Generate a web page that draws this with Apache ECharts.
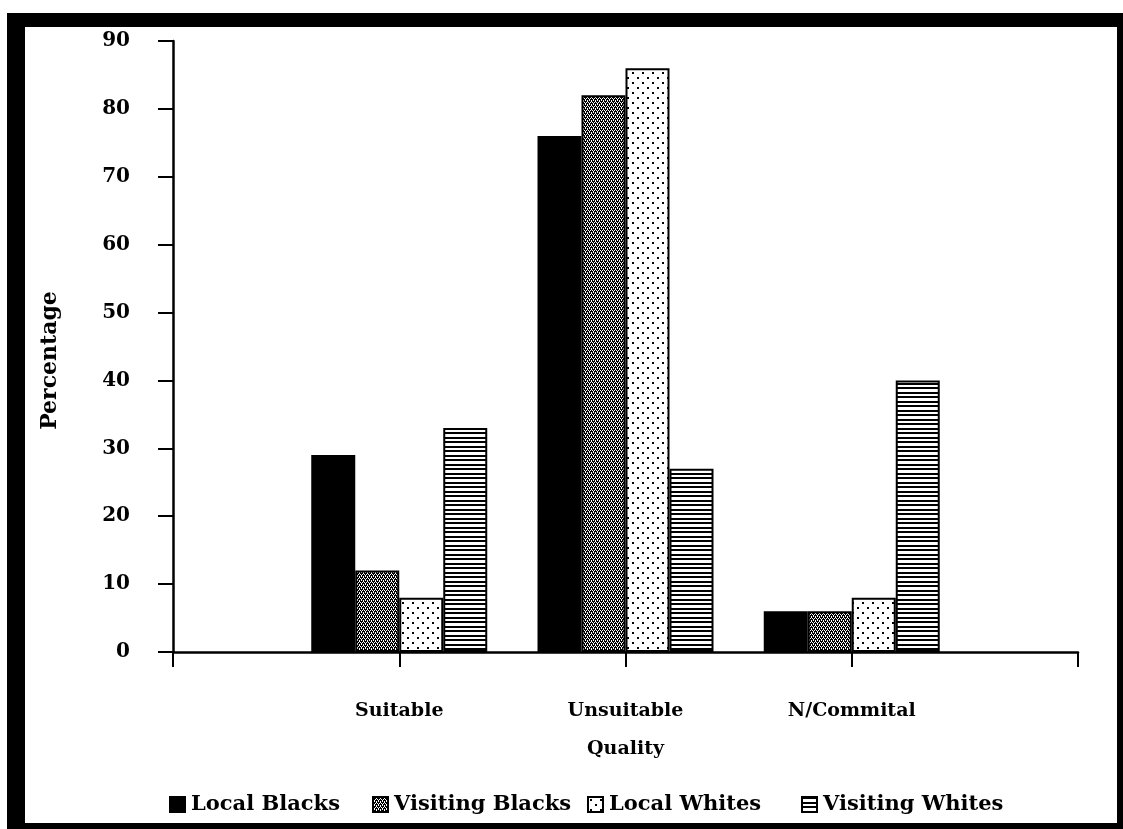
<!DOCTYPE html>
<html>
<head>
<meta charset="utf-8">
<script src="https://cdn.jsdelivr.net/npm/echarts@6/dist/echarts.min.js"></script>
<style>
  html, body { margin: 0; padding: 0; background: #fff; }
  #chart { width: 1123px; height: 829px; }
</style>
</head>
<body>
<div id="chart"></div>
<script>
const chart = echarts.init(document.getElementById("chart"));

// ==========================
// DATA
// ==========================

const categories = ["", "Suitable", "Unsuitable", "N/Commital", ""];
const seriesNames = ["Local Blacks", "Visiting Blacks", "Local Whites", "Visiting Whites"];

const localBlacks    = [null, 29, 76, 6, null];
const visitingBlacks = [null, 12, 82, 6, null];
const localWhites    = [null, 8, 86, 8, null];
const visitingWhites = [null, 33, 27, 40, null];

const yTicks = [0, 10, 20, 30, 40, 50, 60, 70, 80, 90];

// ==========================
// PATTERNS
// ==========================

function makePattern(w, h, draw) {
  const c = document.createElement("canvas");
  c.width = w;
  c.height = h;
  const ctx = c.getContext("2d");
  ctx.fillStyle = "#fff";
  ctx.fillRect(0, 0, w, h);
  ctx.fillStyle = "#000";
  draw(ctx);
  return { image: c, repeat: "repeat" };
}

const solid = "#000";

// dark halftone
const halftone = makePattern(4, 4, ctx => {
  const rows = ["X.X.", "XXX.", ".X.X", "X.XX"];
  rows.forEach((r, y) => {
    for (let x = 0; x < 4; x++) if (r[x] === "X") ctx.fillRect(x, y, 1, 1);
  });
});

// sparse dots
const dots = makePattern(10, 10, ctx => {
  ctx.fillRect(2, 2, 2, 2);
  ctx.fillRect(7, 7, 2, 2);
});

// horizontal stripes
const stripes = makePattern(4, 9, ctx => {
  ctx.fillRect(0, 0, 4, 2);
  ctx.fillRect(0, 5, 4, 2);
});

const fills = [solid, halftone, dots, stripes];
const values = [localBlacks, visitingBlacks, localWhites, visitingWhites];

const FONT = "DejaVu Serif";

// ==========================
// OPTION
// ==========================

const legendLefts = [164, 367, 582, 796];

chart.setOption({
  animation: false,
  backgroundColor: "#fff",
  textStyle: { fontFamily: FONT, color: "#000" },

  graphic: [
    { type: "rect", shape: { x: 7, y: 13, width: 18, height: 816 }, style: { fill: "#000" } },
    { type: "rect", shape: { x: 7, y: 13, width: 1116, height: 14 }, style: { fill: "#000" } },
    { type: "rect", shape: { x: 1117, y: 13, width: 6, height: 816 }, style: { fill: "#000" } },
    { type: "rect", shape: { x: 7, y: 823, width: 1116, height: 6 }, style: { fill: "#000" } }
  ],

  grid: {
    left: 173,
    right: 45,
    top: 41,
    bottom: 177
  },

  legend: seriesNames.map((name, i) => ({
    data: [name],
    left: legendLefts[i],
    top: 789,
    itemWidth: 15,
    itemHeight: 15,
    itemGap: 0,
    icon: "rect",
    selectedMode: false,
    textStyle: { fontFamily: FONT, fontWeight: "bold", fontSize: 21, color: "#000", padding: [0, 0, 0, 1] }
  })),

  xAxis: {
    type: "category",
    data: categories,
    boundaryGap: false,
    name: "Quality",
    nameLocation: "middle",
    nameGap: 88,
    nameTextStyle: { fontFamily: FONT, fontWeight: "bold", fontSize: 19, color: "#000" },
    axisLine: { lineStyle: { color: "#000", width: 2.5 } },
    axisTick: { show: true, length: 15, alignWithLabel: true, lineStyle: { color: "#000", width: 2 } },
    axisLabel: {
      margin: 50,
      interval: 0,
      fontFamily: FONT,
      fontWeight: "bold",
      fontSize: 19,
      color: "#000"
    },
    splitLine: { show: false }
  },

  yAxis: {
    type: "value",
    min: 0,
    max: 90,
    interval: 10,
    name: "Percentage",
    nameLocation: "middle",
    nameGap: 112,
    nameRotate: 90,
    nameTextStyle: { fontFamily: FONT, fontWeight: "bold", fontSize: 22, color: "#000", padding: [0, 28, 0, 0] },
    axisLine: { show: true, lineStyle: { color: "#000", width: 2.5 } },
    axisTick: { show: true, length: 15, lineStyle: { color: "#000", width: 2 } },
    axisLabel: {
      margin: 43,
      fontFamily: FONT,
      fontWeight: "bold",
      fontSize: 20,
      color: "#000",
      formatter: v => (yTicks.includes(v) ? String(v) : "")
    },
    splitLine: { show: false }
  },

  series: seriesNames.map((name, i) => ({
    name,
    type: "bar",
    data: values[i],
    barWidth: 44,
    barGap: "0%",
    itemStyle: {
      color: fills[i],
      borderColor: "#000",
      borderWidth: 2
    }
  }))
});
</script>
</body>
</html>
